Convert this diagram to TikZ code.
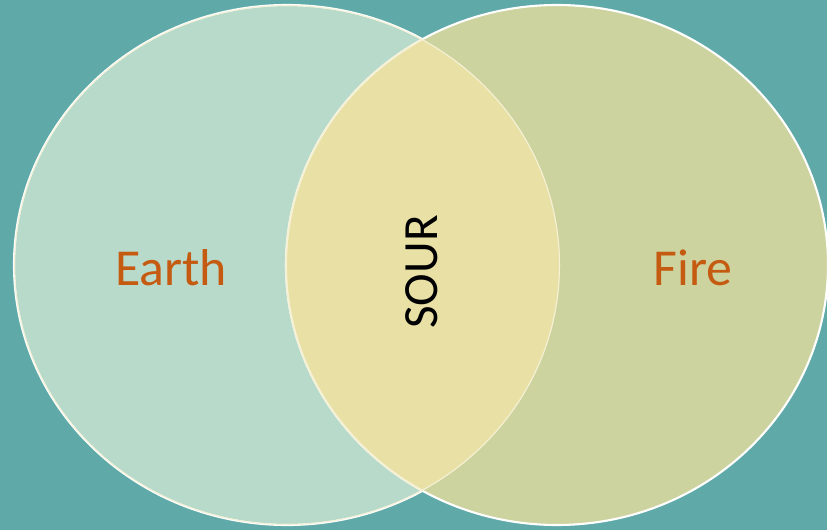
\documentclass[tikz,border=0pt]{standalone}
\usepackage{fontspec}
\setmainfont{Carlito}
\definecolor{fondo}{HTML}{5FAAA8}
\definecolor{tierra}{HTML}{B8DACA}
\definecolor{fuego}{HTML}{CDD39F}
\definecolor{cruce}{HTML}{E8E0A5}
\definecolor{naranja}{HTML}{C55A11}

\begin{document}
\begin{tikzpicture}[x=0.02cm, y=-0.02cm,
  etiqueta/.style={text=naranja, font=\fontsize{29.5}{32}\selectfont},
  borde/.style={draw=white, line width=1.2pt}]
\fill[fondo] (0,0) rectangle (827,530);
\useasboundingbox (0,0) rectangle (827,530);

% circulos
\fill[tierra] (287,265) ellipse (273 and 260);
\draw[borde] (287,265) ellipse (273 and 260);
\fill[fuego] (557,265) ellipse (271 and 260);
\draw[borde] (557,265) ellipse (271 and 260);

% interseccion
\begin{scope}
\clip (287,265) ellipse (273 and 260);
\fill[cruce] (557,265) ellipse (271 and 260);
\draw[draw=white!55!cruce, line width=1.2pt] (557,265) ellipse (271 and 260);
\draw[draw=white!55!cruce, line width=1.2pt] (287,265) ellipse (273 and 260);
\end{scope}

% textos
\node[etiqueta] (earth) at (171,268) {Earth};
\node[etiqueta] (fire) at (693,268) {Fire};
\node[font=\fontsize{28}{32}\selectfont, rotate=90] (sour) at (422,272) {SOUR};
\end{tikzpicture}
\end{document}
